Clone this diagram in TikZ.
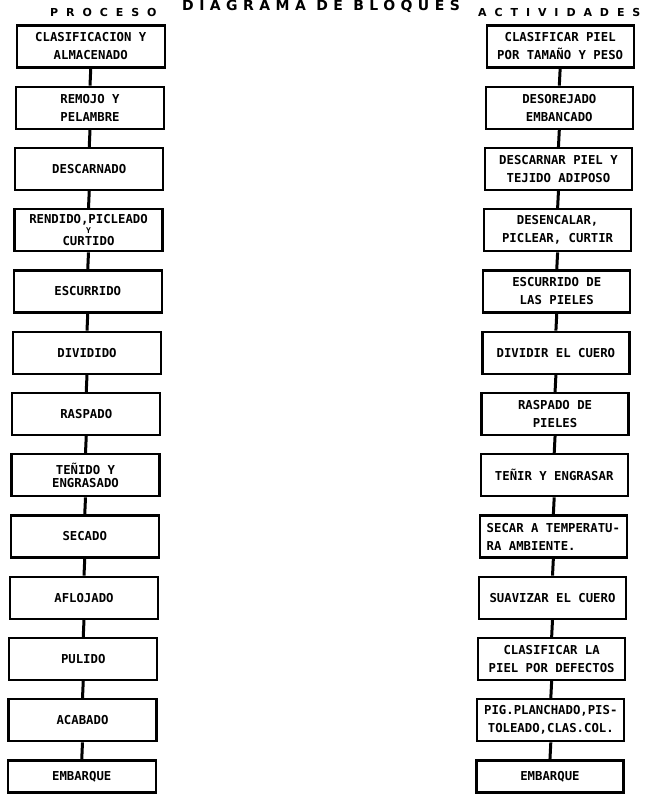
\documentclass[tikz,border=0pt]{standalone}
\usepackage{fontspec}
\setmonofont{DejaVu Sans Mono}
\newfontfamily\titlefont[LetterSpace=39]{DejaVu Sans Bold}
\newfontfamily\headfont[LetterSpace=72]{DejaVu Sans Bold}
\usetikzlibrary{positioning}

\tikzset{
  paso/.style={draw, line width=2.2pt, minimum height=42pt, inner sep=2pt,
    align=center, font=\ttfamily\bfseries\fontsize{12.3}{18}\selectfont},
  izq/.style={paso, minimum width=148pt, xshift=-0.75pt},
  der/.style={paso, minimum width=147pt, xshift=-0.85pt},
  enlace/.style={line width=3pt},
  cabecera/.style={inner sep=0, anchor=base west,
    font=\headfont\fontsize{11}{11}\selectfont}
}

\begin{document}
\begin{tikzpicture}[x=1pt, y=-1pt, node distance=17.05pt]
\useasboundingbox (0,0) rectangle (647,794);

\node[inner sep=0, anchor=base west,
  font=\titlefont\fontsize{14}{14}\selectfont] (titulo) at (182,11) {DIAGRAMA DE BLOQUES};
\node[cabecera] (proceso) at (50,17) {PROCESO};
\node[cabecera] (actividades) at (478,17) {ACTIVIDADES};

% proceso
\node[izq] (p1) at (91.5,46.5) {CLASIFICACION Y\\ALMACENADO};
\node[izq, below=of p1] (p2) {REMOJO Y\\PELAMBRE};
\node[izq, below=of p2] (p3) {DESCARNADO};
\node[izq, below=of p3] (p4) {RENDIDO,PICLEADO\\[-8pt]{\fontsize{8}{8}\selectfont Y}\\[-6pt]CURTIDO};
\node[izq, below=of p4] (p5) {ESCURRIDO};
\node[izq, below=of p5] (p6) {DIVIDIDO};
\node[izq, below=of p6] (p7) {RASPADO};
\node[izq, below=of p7] (p8) {TEÑIDO Y\\[-5pt]ENGRASADO};
\node[izq, below=of p8] (p9) {SECADO};
\node[izq, below=of p9] (p10) {AFLOJADO};
\node[izq, below=of p10] (p11) {PULIDO};
\node[izq, below=of p11] (p12) {ACABADO};
\node[izq, below=of p12, minimum height=32pt] (p13) {EMBARQUE};

% actividades
\node[der] (a1) at (561,46.5) {CLASIFICAR PIEL\\POR TAMAÑO Y PESO};
\node[der, below=of a1] (a2) {DESOREJADO\\EMBANCADO};
\node[der, below=of a2] (a3) {DESCARNAR PIEL Y\\TEJIDO ADIPOSO};
\node[der, below=of a3] (a4) {DESENCALAR,\\PICLEAR, CURTIR};
\node[der, below=of a4] (a5) {ESCURRIDO DE\\LAS PIELES};
\node[der, below=of a5] (a6) {DIVIDIR EL CUERO};
\node[der, below=of a6] (a7) {RASPADO DE\\PIELES};
\node[der, below=of a7] (a8) {TEÑIR Y ENGRASAR};
\node[der, below=of a8, align=left] (a9) {SECAR A TEMPERATU-\\RA AMBIENTE.};
\node[der, below=of a9] (a10) {SUAVIZAR EL CUERO};
\node[der, below=of a10] (a11) {CLASIFICAR LA\\PIEL POR DEFECTOS};
\node[der, below=of a11] (a12) {PIG.PLANCHADO,PIS-\\TOLEADO,CLAS.COL.};
\node[der, below=of a12, minimum height=32pt] (a13) {EMBARQUE};

\foreach \i [evaluate=\i as \j using int(\i+1)] in {1,...,12} {
  \draw[enlace] (p\i.south) -- (p\j.north);
  \draw[enlace] (a\i.south) -- (a\j.north);
}

\end{tikzpicture}
\end{document}
